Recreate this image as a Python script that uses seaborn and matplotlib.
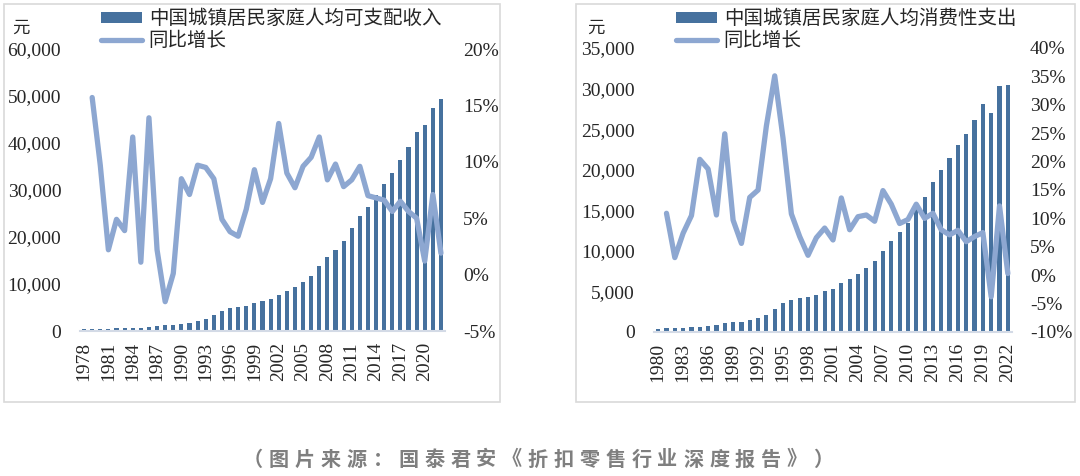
import matplotlib
matplotlib.use("Agg")
import matplotlib.pyplot as plt
import seaborn as sns
from matplotlib.patches import Rectangle, Patch
from matplotlib.lines import Line2D
from matplotlib.font_manager import FontProperties
from matplotlib.ticker import FuncFormatter, MultipleLocator

# ---------------- data ----------------
income_years = list(range(1978, 2023))
income = [343, 405, 478, 500, 535, 565, 652, 739, 900, 1002,
          1180, 1374, 1510, 1701, 2027, 2577, 3496, 4283, 4839, 5160,
          5425, 5854, 6280, 6860, 7703, 8472, 9422, 10493, 11759, 13786,
          15781, 17175, 19109, 21810, 24565, 26467, 28844, 31195, 33616, 36396,
          39251, 42359, 43834, 47412, 49283]
income_growth_years = list(range(1979, 2023))
income_growth = [15.7, 9.7, 2.2, 4.9, 3.9, 12.2, 1.1, 13.9, 2.2, -2.4,
                 0.1, 8.5, 7.1, 9.7, 9.5, 8.5, 4.9, 3.8, 3.4, 5.8,
                 9.3, 6.4, 8.5, 13.4, 9.0, 7.7, 9.6, 10.4, 12.2, 8.4,
                 9.8, 7.8, 8.4, 9.6, 7.0, 6.8, 6.6, 5.6, 6.5, 5.6,
                 5.0, 1.2, 7.1, 1.9]

spend_years = list(range(1980, 2023))
spend = [412, 457, 471, 506, 559, 673, 799, 884, 1104, 1211,
         1279, 1454, 1672, 2111, 2851, 3538, 3919, 4186, 4332, 4616,
         4998, 5309, 6030, 6511, 7182, 7943, 8697, 9997, 11243, 12265,
         13471, 15161, 16674, 18488, 19968, 21392, 23079, 24445, 26112, 28063,
         27007, 30307, 30391]
spend_growth_years = list(range(1981, 2023))
spend_growth = [10.9, 3.1, 7.4, 10.5, 20.4, 18.7, 10.6, 24.9, 9.7, 5.6,
                13.7, 15.0, 26.3, 35.1, 24.1, 10.8, 6.8, 3.5, 6.6, 8.3,
                6.2, 13.6, 8.0, 10.3, 10.6, 9.5, 14.9, 12.5, 9.1, 9.8,
                12.5, 10.0, 10.9, 8.0, 7.1, 7.9, 5.9, 6.8, 7.5, -3.8,
                12.2, 0.3]

income_label = "中国城镇居民家庭人均可支配收入"
spend_label = "中国城镇居民家庭人均消费性支出"
growth_label = "同比增长"
unit_label = "元"
caption = "（图片来源：国泰君安《折扣零售行业深度报告》）"

# ---------------- style ----------------
sns.set_theme(style="white")
plt.rcParams['font.family'] = ['Liberation Serif', 'Noto Sans CJK SC', 'DejaVu Sans']

BAR = "#46719E"
LINE = "#8DA7D1"
GRID = "#D9D9D9"
W, H = 1080, 476
fig = plt.figure(figsize=(W / 100, H / 100), dpi=100)
fig.patch.set_facecolor("white")

cjk = FontProperties(family=['Noto Sans CJK SC'], size=14)
cjk_unit = FontProperties(family=['Noto Sans CJK SC'], size=12.5)


def panel(box, ax_px, years, bars, gyears, growth, ylim, ystep, glim, gstep,
          tick_start, label, legend_x, unit_x, lpad, rpad):
    # panel border
    x0, y0, x1, y1 = box
    fig.add_artist(Rectangle((x0 / W, 1 - y1 / H), (x1 - x0) / W, (y1 - y0) / H,
                             transform=fig.transFigure, fill=False,
                             ec=GRID, lw=1.2))
    l, t, r, b = ax_px
    ax = fig.add_axes([l / W, 1 - b / H, (r - l) / W, (b - t) / H])
    sns.barplot(x=years, y=bars, native_scale=True, color=BAR, saturation=1,
                width=0.5, ax=ax, edgecolor="none")
    ax.set_xlim(years[0] - 0.5, years[-1] + 0.5)
    ax.set_ylim(*ylim)
    ax.yaxis.set_major_locator(MultipleLocator(ystep))
    ax.yaxis.set_major_formatter(FuncFormatter(lambda v, p: f"{v:,.0f}"))
    ax.set_xticks(list(range(tick_start, years[-1] + 1, 3)))
    ax.set_xticklabels([str(y) for y in range(tick_start, years[-1] + 1, 3)],
                       rotation=90)
    ax.tick_params(axis='y', length=0, pad=lpad, labelsize=14)
    ax.tick_params(axis='x', length=0, pad=8, labelsize=14)
    for s in ["top", "left", "right"]:
        ax.spines[s].set_visible(False)
    ax.spines["bottom"].set_color("#D3DAE6")
    ax.spines["bottom"].set_linewidth(1.5)
    ax.set_xlabel("")
    ax.set_ylabel("")
    ax.set_facecolor("none")

    ax2 = ax.twinx()
    sns.lineplot(x=gyears, y=growth, ax=ax2, color=LINE, linewidth=3.8)
    ax2.set_ylim(*glim)
    ax2.yaxis.set_major_locator(MultipleLocator(gstep))
    ax2.yaxis.set_major_formatter(FuncFormatter(lambda v, p: f"{v:.0f}%"))
    ax2.tick_params(axis='y', length=0, pad=rpad, labelsize=14)
    for s in ax2.spines.values():
        s.set_visible(False)
    ax2.set_ylabel("")
    ax2.set_xlim(years[0] - 0.5, years[-1] + 0.5)

    handles = [Patch(facecolor=BAR, edgecolor="none"),
               Line2D([0], [0], color=LINE, lw=3.8)]
    fig.legend(handles, [label, growth_label], loc="upper left",
               bbox_to_anchor=(legend_x / W, 1 - 8 / H), frameon=False,
               prop=cjk, handlelength=2.1, handleheight=0.5,
               handletextpad=0.35, labelspacing=0.05, borderpad=0,
               borderaxespad=0)
    fig.text(unit_x / W, 1 - 28 / H, unit_label, fontproperties=cjk_unit,
             ha="center", va="center")
    return ax, ax2


panel((4, 4, 500, 402), (80, 49, 445, 331), income_years, income,
      income_growth_years, income_growth, (0, 60000), 10000, (-5, 20), 5,
      1978, income_label, 101, 21, 13.5, 13)
panel((576, 4, 1075, 402), (654, 48, 1012, 332), spend_years, spend,
      spend_growth_years, spend_growth, (0, 35000), 5000, (-10, 40), 5,
      1980, spend_label, 676, 596, 14, 13)

# caption with letter spacing
cap_font = FontProperties(family=['Noto Sans CJK SC'], size=14.5, weight='bold')
step = 25.9
start = 240 + step / 2
for i, ch in enumerate(caption):
    fig.text((start + i * step) / W, 1 - 459 / H, ch, fontproperties=cap_font,
             color="#7F7F7F", ha="center", va="center")

fig.savefig("out.png", dpi=100, facecolor="white")
